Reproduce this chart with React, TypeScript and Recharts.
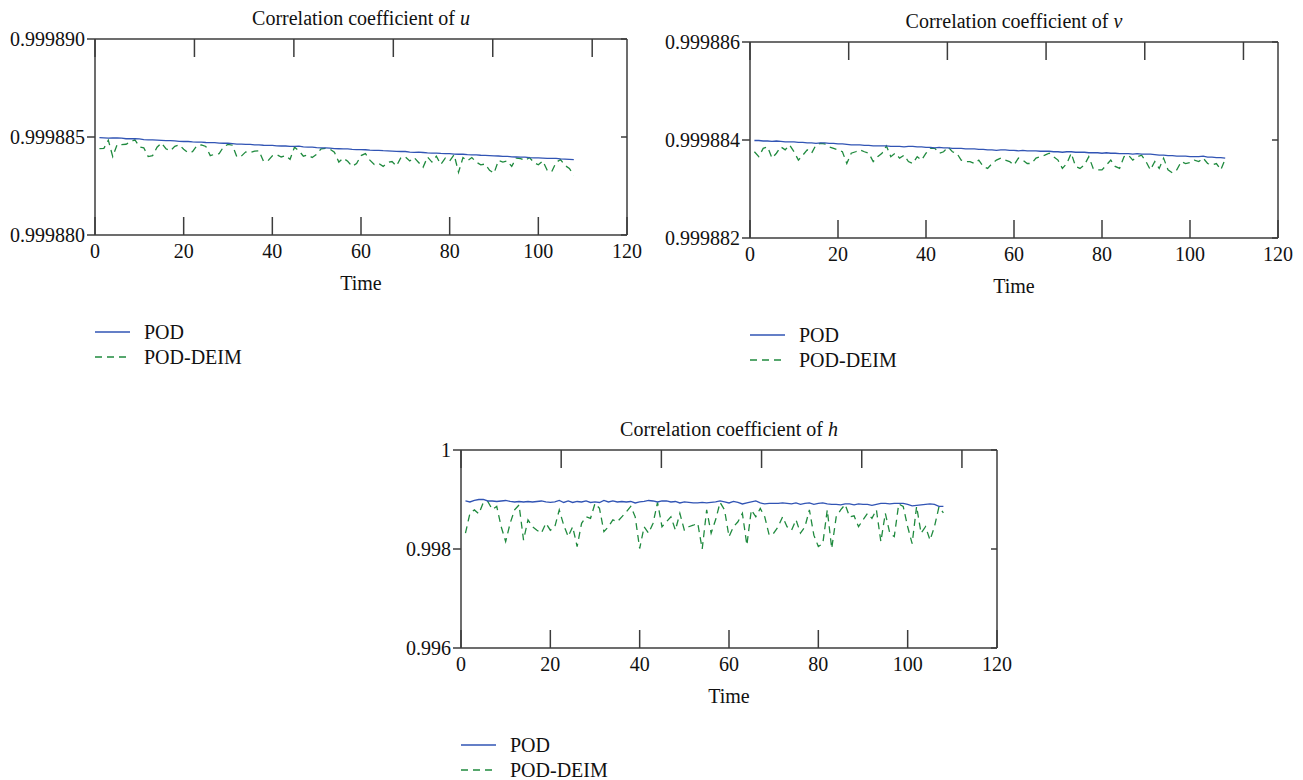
import React from "react";
import { LineChart, Line, XAxis, YAxis } from "recharts";

const time = Array.from({ length: 108 }, (_, i) => i + 1);
const xTicks = [0, 20, 40, 60, 80, 100, 120];

const uPod = [
  0.99988497, 0.99988496, 0.99988494, 0.99988495, 0.99988496, 0.99988494, 0.99988491, 0.99988491, 0.99988491, 0.9998849,
  0.99988487, 0.99988485, 0.99988485, 0.99988484, 0.99988483, 0.99988481, 0.99988481, 0.9998848, 0.99988478, 0.99988477,
  0.99988477, 0.99988475, 0.99988474, 0.99988474, 0.99988472, 0.99988471, 0.99988471, 0.99988469, 0.99988468, 0.99988468,
  0.99988466, 0.99988464, 0.99988464, 0.99988462, 0.99988462, 0.9998846, 0.9998846, 0.99988458, 0.99988457, 0.99988457,
  0.99988455, 0.99988454, 0.99988454, 0.99988452, 0.99988452, 0.99988453, 0.9998845, 0.99988448, 0.99988448, 0.99988446,
  0.99988445, 0.99988445, 0.99988443, 0.99988441, 0.9998844, 0.99988439, 0.99988439, 0.99988437, 0.99988436, 0.99988436,
  0.99988435, 0.99988433, 0.99988432, 0.99988432, 0.9998843, 0.99988429, 0.99988428, 0.99988427, 0.99988426, 0.99988426,
  0.99988423, 0.99988422, 0.99988423, 0.99988421, 0.99988419, 0.99988418, 0.99988418, 0.99988416, 0.99988415, 0.99988415,
  0.99988413, 0.99988412, 0.99988412, 0.9998841, 0.99988409, 0.99988409, 0.99988407, 0.99988406, 0.99988405, 0.99988404,
  0.99988403, 0.99988401, 0.99988401, 0.99988399, 0.99988398, 0.99988397, 0.99988397, 0.99988395, 0.99988394, 0.99988393,
  0.99988392, 0.99988391, 0.99988391, 0.99988391, 0.99988388, 0.99988387, 0.99988386, 0.99988385,
];
const uDeim = [
  0.99988441, 0.99988442, 0.99988484, 0.999884, 0.99988462, 0.99988461, 0.99988463, 0.99988476, 0.99988486, 0.9998845,
  0.99988445, 0.999884, 0.99988405, 0.99988448, 0.9998847, 0.9998844, 0.9998843, 0.99988452, 0.9998846, 0.99988438,
  0.9998842, 0.99988425, 0.99988456, 0.9998846, 0.99988452, 0.99988405, 0.99988412, 0.99988415, 0.9998845, 0.99988462,
  0.99988458, 0.99988398, 0.99988402, 0.99988424, 0.9998842, 0.99988428, 0.9998843, 0.99988376, 0.99988378, 0.99988404,
  0.9998841, 0.99988398, 0.99988405, 0.99988386, 0.99988448, 0.9998843, 0.99988402, 0.99988408, 0.99988395, 0.99988412,
  0.9998844, 0.99988442, 0.99988438, 0.99988422, 0.99988372, 0.99988392, 0.99988376, 0.9998835, 0.99988365, 0.99988405,
  0.99988415, 0.99988382, 0.9998836, 0.99988365, 0.9998835, 0.9998837, 0.99988375, 0.99988352, 0.99988395, 0.99988398,
  0.99988378, 0.99988395, 0.9998837, 0.99988345, 0.99988398, 0.99988372, 0.99988402, 0.9998836, 0.99988392, 0.99988378,
  0.9998841, 0.9998832, 0.99988395, 0.99988378, 0.99988395, 0.99988372, 0.99988358, 0.99988362, 0.9998833, 0.99988315,
  0.9998838, 0.99988372, 0.99988378, 0.9998835, 0.99988392, 0.9998839, 0.9998838, 0.99988395, 0.9998837, 0.99988358,
  0.99988378, 0.9998833, 0.99988322, 0.9998837, 0.99988385, 0.99988355, 0.9998834, 0.99988305,
];

const vPod = [
  0.99988399, 0.99988399, 0.99988398, 0.99988398, 0.99988397, 0.99988398, 0.99988397, 0.99988396, 0.99988396, 0.99988396,
  0.99988395, 0.99988395, 0.99988394, 0.99988394, 0.99988393, 0.99988394, 0.99988394, 0.99988393, 0.99988393, 0.99988392,
  0.99988392, 0.99988391, 0.9998839, 0.9998839, 0.9998839, 0.99988389, 0.99988389, 0.99988388, 0.99988388, 0.99988388,
  0.99988388, 0.99988387, 0.99988387, 0.99988387, 0.99988386, 0.99988387, 0.99988387, 0.99988386, 0.99988386, 0.99988385,
  0.99988385, 0.99988384, 0.99988385, 0.99988384, 0.99988384, 0.99988383, 0.99988383, 0.99988383, 0.99988382, 0.99988382,
  0.99988382, 0.99988381, 0.99988381, 0.9998838, 0.9998838, 0.99988379, 0.9998838, 0.9998838, 0.99988379, 0.99988379,
  0.99988378, 0.99988379, 0.99988378, 0.99988378, 0.99988378, 0.99988377, 0.99988377, 0.99988377, 0.99988376, 0.99988376,
  0.99988375, 0.99988376, 0.99988376, 0.99988375, 0.99988375, 0.99988375, 0.99988374, 0.99988374, 0.99988374, 0.99988373,
  0.99988374, 0.99988373, 0.99988373, 0.99988372, 0.99988372, 0.99988372, 0.99988371, 0.99988372, 0.99988371, 0.99988371,
  0.99988371, 0.9998837, 0.99988369, 0.99988369, 0.99988368, 0.99988368, 0.99988367, 0.99988367, 0.99988367, 0.99988366,
  0.99988366, 0.99988366, 0.99988367, 0.99988365, 0.99988365, 0.99988364, 0.99988364, 0.99988363,
];
const vDeim = [
  0.99988376, 0.99988366, 0.99988383, 0.99988386, 0.99988363, 0.99988373, 0.99988386, 0.9998838, 0.9998839, 0.99988376,
  0.99988359, 0.99988369, 0.9998838, 0.99988373, 0.9998839, 0.99988393, 0.99988392, 0.99988386, 0.99988383, 0.9998838,
  0.99988376, 0.99988352, 0.99988373, 0.99988376, 0.9998838, 0.99988376, 0.99988373, 0.99988356, 0.99988366, 0.99988373,
  0.99988388, 0.99988366, 0.99988373, 0.99988363, 0.99988369, 0.99988356, 0.99988352, 0.99988366, 0.99988359, 0.99988373,
  0.99988383, 0.99988383, 0.99988373, 0.99988376, 0.99988386, 0.99988376, 0.99988373, 0.99988359, 0.99988356, 0.99988356,
  0.99988352, 0.99988359, 0.99988346, 0.99988342, 0.99988352, 0.99988359, 0.99988363, 0.99988359, 0.99988356, 0.99988349,
  0.99988363, 0.99988359, 0.99988352, 0.99988352, 0.99988363, 0.99988366, 0.99988369, 0.99988373, 0.99988366, 0.99988359,
  0.99988342, 0.99988352, 0.99988373, 0.99988346, 0.99988342, 0.99988349, 0.99988366, 0.99988342, 0.99988339, 0.99988339,
  0.99988349, 0.99988359, 0.99988346, 0.99988342, 0.99988366, 0.99988369, 0.99988359, 0.99988366, 0.99988369, 0.99988356,
  0.99988339, 0.99988356, 0.99988342, 0.99988363, 0.99988339, 0.99988333, 0.99988339, 0.99988356, 0.99988352, 0.99988354,
  0.99988359, 0.99988356, 0.99988363, 0.99988352, 0.99988349, 0.99988352, 0.99988339, 0.99988361,
];

const hPod = [
  0.99897, 0.99895, 0.99898, 0.999, 0.999, 0.99897, 0.99897, 0.99896, 0.99897, 0.99898,
  0.99896, 0.99895, 0.99896, 0.99895, 0.99896, 0.99895, 0.99896, 0.99897, 0.99895, 0.99894,
  0.99895, 0.99898, 0.99894, 0.99897, 0.99894, 0.99896, 0.99895, 0.99897, 0.99894, 0.99895,
  0.99894, 0.99898, 0.99895, 0.99897, 0.99895, 0.99896, 0.99895, 0.99896, 0.99893, 0.99895,
  0.99896, 0.99898, 0.99897, 0.99895, 0.99897, 0.99897, 0.99895, 0.99896, 0.99893, 0.99895,
  0.99894, 0.99893, 0.99893, 0.99894, 0.99893, 0.99894, 0.99895, 0.99897, 0.99895, 0.99893,
  0.99896, 0.99894, 0.99891, 0.99893, 0.99895, 0.99897, 0.99893, 0.99891, 0.99892, 0.99892,
  0.99892, 0.99893, 0.99892, 0.99891, 0.99893, 0.9989, 0.99892, 0.99893, 0.9989, 0.99892,
  0.99893, 0.99891, 0.9989, 0.9989, 0.99889, 0.99891, 0.99891, 0.99889, 0.99891, 0.9989,
  0.9989, 0.99888, 0.9989, 0.99892, 0.99892, 0.99891, 0.99892, 0.99892, 0.99892, 0.9989,
  0.99887, 0.99888, 0.99889, 0.9989, 0.99891, 0.9989, 0.99886, 0.99886,
];
const hDeim = [
  0.99832, 0.99872, 0.99879, 0.99871, 0.99894, 0.99896, 0.9988, 0.99886, 0.99845, 0.99815,
  0.99852, 0.99879, 0.99889, 0.99818, 0.99859, 0.99845, 0.99838, 0.99832, 0.99852, 0.99838,
  0.99845, 0.99879, 0.99848, 0.99825, 0.99845, 0.99805, 0.99852, 0.99865, 0.99862, 0.99892,
  0.99882, 0.99835, 0.99845, 0.99859, 0.99855, 0.99865, 0.99875, 0.99886, 0.99865, 0.99801,
  0.99845, 0.99832, 0.99852, 0.99894, 0.99845, 0.99855, 0.99865, 0.99838, 0.99872, 0.99838,
  0.99845, 0.99848, 0.99852, 0.998, 0.99879, 0.99832, 0.99859, 0.99894, 0.99879, 0.99825,
  0.99845, 0.99855, 0.99872, 0.99808, 0.99879, 0.99865, 0.99882, 0.99865, 0.99828, 0.99832,
  0.99845, 0.99865, 0.99845, 0.99838, 0.99859, 0.99832, 0.99845, 0.99879, 0.99828, 0.99805,
  0.99811, 0.99879, 0.99801, 0.99865, 0.99879, 0.9989, 0.99865, 0.99867, 0.99845, 0.99859,
  0.99872, 0.99862, 0.99879, 0.99815, 0.99872, 0.99832, 0.99825, 0.99891, 0.99886, 0.99845,
  0.99811, 0.99886, 0.99832, 0.99845, 0.99818, 0.99845, 0.99885, 0.99873,
];

const uTicks = [0.99988, 0.999885, 0.99989];
const vTicks = [0.999882, 0.999884, 0.999886];
const hTicks = [0.996, 0.998, 1];

const FONT = "'Liberation Serif', 'Times New Roman', serif";
const AXIS = "#3c3c3c";
const BLUE = "#3154b4";
const GREEN = "#1f8a3e";
const DASH = "7 5";

type PanelProps = {
  left: number; // plot box on the page
  top: number;
  w: number;
  h: number;
  pod: number[];
  deim: number[];
  yTicks: number[];
  yFormat: (v: number) => string;
  variable: string;
};

function Panel({ left, top, w, h, pod, deim, yTicks, yFormat, variable }: PanelProps) {
  const data = time.map((t, i) => ({ t, pod: pod[i], deim: deim[i] }));
  const yDomain = [yTicks[0], yTicks[yTicks.length - 1]];
  const tickStyle = { fill: "#111", fontSize: 20, fontFamily: FONT };
  const text: React.CSSProperties = {
    position: "absolute",
    fontFamily: FONT,
    fontSize: 20,
    lineHeight: "20px",
    color: "#111",
    whiteSpace: "nowrap",
  };
  return (
    <>
      <div style={{ ...text, left, top: top - 31, width: w, textAlign: "center" }}>
        Correlation coefficient of <i>{variable}</i>
      </div>
      <div style={{ position: "absolute", left: left - 100, top: top - 50 }}>
        <LineChart
          width={w + 130}
          height={h + 190}
          data={data}
          margin={{ top: 49, right: 29, bottom: 110, left: 10 }}
        >
          <XAxis
            dataKey="t"
            type="number"
            domain={[0, 120]}
            ticks={xTicks}
            interval={0}
            allowDataOverflow
            stroke={AXIS}
            strokeWidth={1.5}
            tickSize={-18}
            tickMargin={27}
            tick={tickStyle}
          />
          <XAxis
            xAxisId="top"
            orientation="top"
            type="number"
            domain={[0, 120]}
            ticks={xTicks}
            interval={0}
            allowDataOverflow
            height={1}
            stroke={AXIS}
            strokeWidth={1.5}
            tickSize={-18}
            tick={() => <g />}
          />
          <YAxis
            type="number"
            domain={yDomain}
            ticks={yTicks}
            interval={0}
            allowDataOverflow
            width={90}
            stroke={AXIS}
            strokeWidth={1.5}
            tickSize={8}
            tickMargin={2}
            tickFormatter={yFormat}
            tick={tickStyle}
          />
          <YAxis
            yAxisId="right"
            orientation="right"
            type="number"
            domain={yDomain}
            ticks={yTicks}
            interval={0}
            allowDataOverflow
            width={1}
            stroke={AXIS}
            strokeWidth={1.5}
            tickSize={-6}
            tick={() => <g />}
          />
          <Line
            dataKey="deim"
            type="linear"
            stroke={GREEN}
            strokeWidth={1.3}
            strokeDasharray={DASH}
            dot={false}
            isAnimationActive={false}
          />
          <Line
            dataKey="pod"
            type="linear"
            stroke={BLUE}
            strokeWidth={1.3}
            dot={false}
            isAnimationActive={false}
          />
        </LineChart>
      </div>
      <div style={{ ...text, left, top: top + h + 38, width: w, textAlign: "center" }}>Time</div>
      <svg
        style={{ position: "absolute", left, top: top + h + 85 }}
        width={40}
        height={40}
      >
        <line x1={0} x2={35} y1={12} y2={12} stroke={BLUE} strokeWidth={1.3} />
        <line x1={0} x2={35} y1={37} y2={37} stroke={GREEN} strokeWidth={1.3} strokeDasharray={DASH} />
      </svg>
      <div style={{ ...text, left: left + 49, top: top + h + 87 }}>POD</div>
      <div style={{ ...text, left: left + 49, top: top + h + 112 }}>POD-DEIM</div>
    </>
  );
}

export default function App() {
  return (
    <div
      style={{
        position: "absolute",
        left: 0,
        top: 0,
        width: 1303,
        height: 780,
        background: "#fff",
        overflow: "hidden",
      }}
    >
      <Panel
        left={95}
        top={39}
        w={532}
        h={196}
        pod={uPod}
        deim={uDeim}
        yTicks={uTicks}
        yFormat={(v) => v.toFixed(6)}
        variable="u"
      />
      <Panel
        left={750}
        top={42}
        w={528}
        h={196}
        pod={vPod}
        deim={vDeim}
        yTicks={vTicks}
        yFormat={(v) => v.toFixed(6)}
        variable="v"
      />
      <Panel
        left={461}
        top={450}
        w={536}
        h={198}
        pod={hPod}
        deim={hDeim}
        yTicks={hTicks}
        yFormat={(v) => (v === 1 ? "1" : v.toFixed(3))}
        variable="h"
      />
    </div>
  );
}
